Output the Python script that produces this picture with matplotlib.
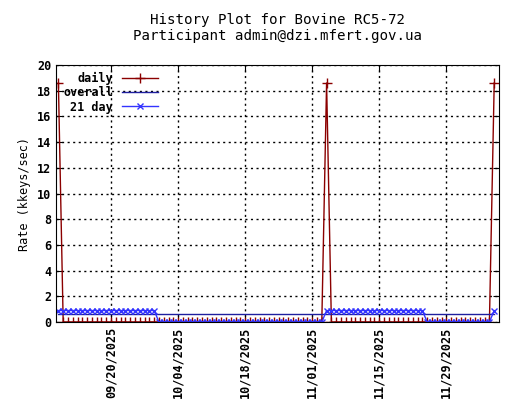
import numpy as np
import pandas as pd
import matplotlib
matplotlib.use('Agg')
import matplotlib.pyplot as plt
import matplotlib.dates as mdates

# daily values (peaks on three days, zero elsewhere)
dates = pd.date_range('2025-09-09', '2025-12-09', freq='D')
peak_days = ['2025-09-09', '2025-11-04', '2025-12-09']
peak_value = 18.6
overall_value = 0.6
avg21_value = 0.89

daily = np.zeros(len(dates))
for d in peak_days:
    daily[dates.get_loc(pd.Timestamp(d))] = peak_value

# 21-day average: on for 21 days after each peak
avg21 = np.zeros(len(dates))
for d in peak_days:
    i = dates.get_loc(pd.Timestamp(d))
    avg21[i:i + 21] = avg21_value
overall = np.full(len(dates), overall_value)

plt.rcParams['font.family'] = ['DejaVu Sans Mono']
plt.rcParams['font.weight'] = 'bold'
plt.rcParams['font.size'] = 8.5

fig = plt.figure(figsize=(5.2, 4.0), dpi=100)
ax = fig.add_axes([56 / 520, 1 - 322 / 400, 443 / 520, 257 / 400])

ax.plot(dates, daily, color='#8b0000', lw=1, marker='+', ms=7, label='daily')
ax.plot(dates, overall, color='#1f1f9f', lw=1, label='overall')
ax.plot(dates, avg21, color='#3333ff', lw=1, marker='x', ms=5, label='21 day')

ax.set_xlim(pd.Timestamp('2025-09-08 12:00'), pd.Timestamp('2025-12-10'))
ax.set_ylim(0, 20)
ax.set_yticks(range(0, 21, 2))
ticks = pd.date_range('2025-09-20', '2025-11-29', freq='14D')
ax.set_xticks(ticks)
ax.xaxis.set_major_formatter(mdates.DateFormatter('%m/%d/%Y'))
plt.setp(ax.get_xticklabels(), rotation=90)
ax.tick_params(direction='in', length=4, top=True, right=True)
ax.grid(True, color='black', linestyle=(0, (1.5, 2.5)), lw=1)
ax.set_ylabel('Rate (kkeys/sec)')
ax.set_title('History Plot for Bovine RC5-72\nParticipant admin@dzi.mfert.gov.ua', pad=18)

leg = ax.legend(loc='upper left', frameon=False, markerfirst=False,
                handlelength=3, borderaxespad=0.2, labelspacing=0.1)
for t in leg.get_texts():
    t.set_ha('right')

fig.savefig('out.png', dpi=100)
